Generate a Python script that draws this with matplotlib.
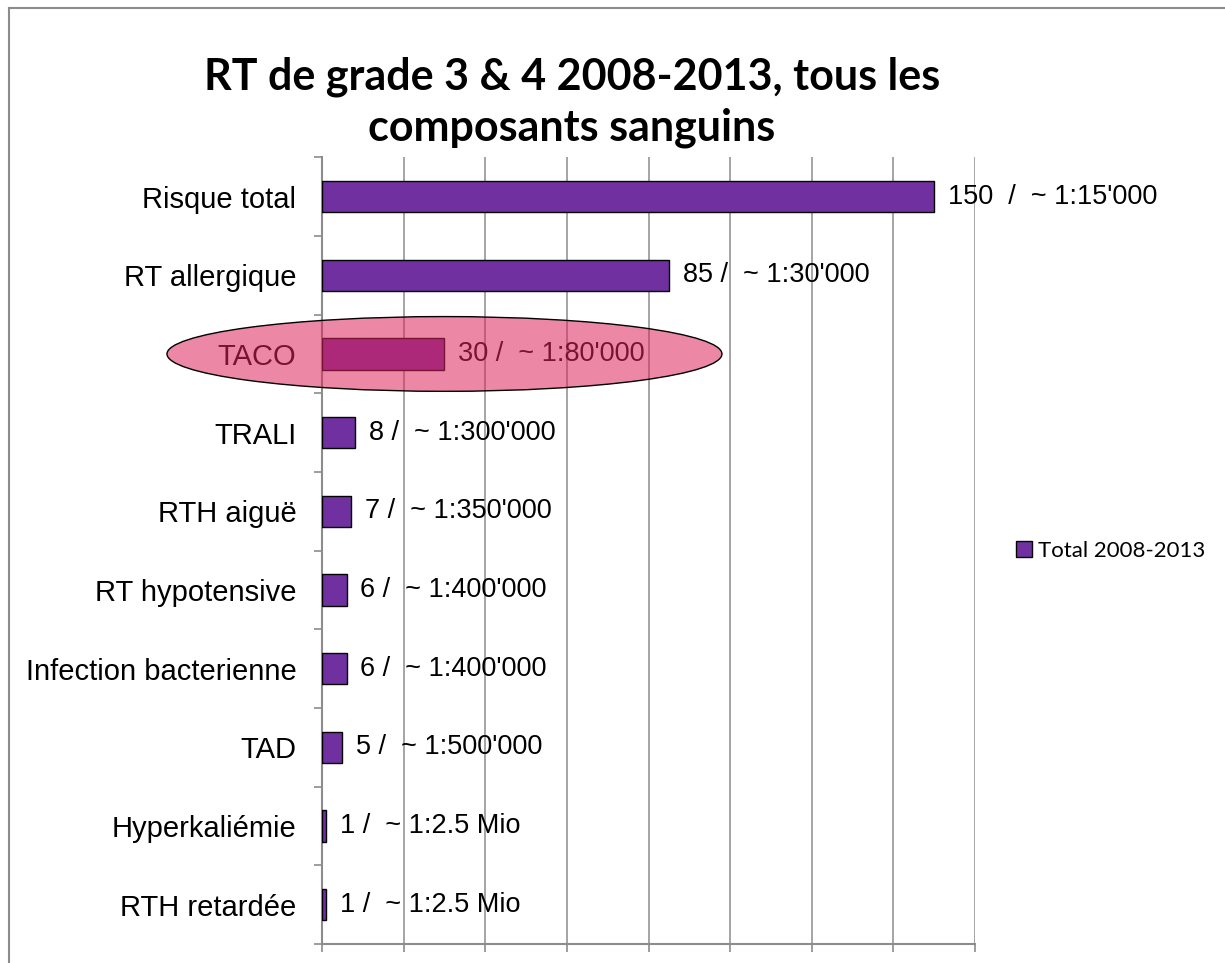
import matplotlib
matplotlib.use("Agg")
import matplotlib.pyplot as plt
from matplotlib.patches import Ellipse
from matplotlib.lines import Line2D
import numpy as np

categories = ["Risque total", "RT allergique", "TACO", "TRALI", "RTH aiguë",
              "RT hypotensive", "Infection bacterienne", "TAD", "Hyperkaliémie",
              "RTH retardée"]
values = [150, 85, 30, 8, 7, 6, 6, 5, 1, 1]
value_labels = ["150  /  ~ 1:15'000", "85 /  ~ 1:30'000", "30 /  ~ 1:80'000",
                "8 /  ~ 1:300'000", "7 /  ~ 1:350'000", "6 /  ~ 1:400'000",
                "6 /  ~ 1:400'000", "5 /  ~ 1:500'000", "1 /  ~ 1:2.5 Mio",
                "1 /  ~ 1:2.5 Mio"]
series_name = "Total 2008-2013"
highlight = "TACO"

BAR_COLOR = "#7030A0"
GRID_COLOR = "#8c8c8c"
LABEL_FONT = "Liberation Sans"
TITLE_FONT = "Lato"

fig = plt.figure(figsize=(12.25, 9.63), dpi=100)
ax = fig.add_axes([0.2629, 0.0197, 0.533, 0.817])

y = np.arange(len(categories))
ax.barh(y, values, height=0.4, color=BAR_COLOR, edgecolor="black", linewidth=1.0, zorder=3)

ax.set_xlim(0, 160)
ax.set_ylim(len(categories) - 0.5, -0.5)
ax.set_xticks(np.arange(0, 161, 20))
ax.set_xticklabels([])
ax.tick_params(axis="x", length=6, color=GRID_COLOR, width=1.2)
ax.grid(axis="x", color=GRID_COLOR, linewidth=1.1, zorder=0)

ax.set_yticks(y)
ax.set_yticklabels(categories, fontsize=21, family=LABEL_FONT)
ax.tick_params(axis="y", which="major", length=0, pad=18.5)
ax.set_yticks(np.arange(-0.5, len(categories), 1), minor=True)
ax.tick_params(axis="y", which="minor", length=6, color=GRID_COLOR, width=1.2)

for side in ["top", "right"]:
    ax.spines[side].set_visible(False)
for side in ["left", "bottom"]:
    ax.spines[side].set_color(GRID_COLOR)
    ax.spines[side].set_linewidth(1.5)

for yi, v, lab in zip(y, values, value_labels):
    ax.annotate(lab, (v, yi), xytext=(10, 0), textcoords="offset points",
                va="center", ha="left", fontsize=19.5, family=LABEL_FONT, zorder=4)

# highlight ellipse over TACO
hi = categories.index(highlight)
ell = Ellipse((values[hi], hi), width=136, height=0.95, facecolor=(0.87, 0.14, 0.36, 0.55),
              edgecolor="black", linewidth=1.0, clip_on=False, zorder=5)
ax.add_patch(ell)

fig.text(0.467, 0.894, "RT de grade 3 & 4 2008-2013, tous les\ncomposants sanguins",
         ha="center", va="center", fontsize=31, fontweight="bold", family=TITLE_FONT,
         linespacing=1.3)

# legend
handle = Line2D([], [], marker="s", linestyle="none", markersize=11,
                markerfacecolor=BAR_COLOR, markeredgecolor="black")
fig.legend([handle], [series_name], loc="center left", bbox_to_anchor=(0.818, 0.428),
           frameon=False, prop={"family": TITLE_FONT, "size": 16},
           handletextpad=0.1, borderpad=0, handlelength=1)

# outer frame (top and left edges visible)
fig.add_artist(Line2D([9 / 1225, 1], [1 - 8 / 963, 1 - 8 / 963], color=GRID_COLOR, linewidth=1.5))
fig.add_artist(Line2D([9 / 1225, 9 / 1225], [0, 1 - 8 / 963], color=GRID_COLOR, linewidth=1.5))

fig.savefig("out.png", dpi=100)
